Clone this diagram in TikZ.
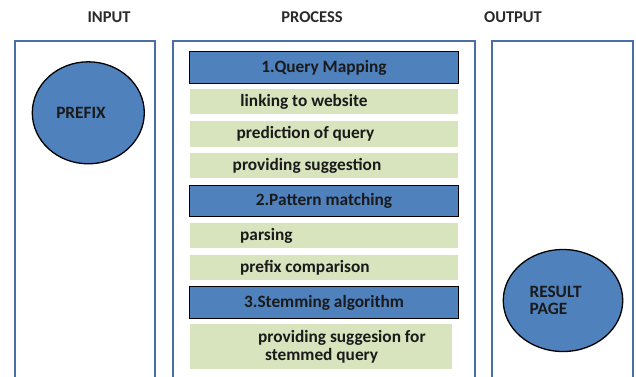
\documentclass[tikz,border=0pt]{standalone}
\usepackage{fontspec}
\setmainfont{Carlito}
\usetikzlibrary{shapes.geometric}
\begin{document}
\begin{tikzpicture}[x=1pt,y=-1pt,
  frame/.style={draw=framecol,line width=2pt},
  header/.style={font=\bfseries\fontsize{16.5}{19}\selectfont,text=headcol},
  stagebox/.style={draw=black,line width=1.3pt,fill=stageblue,inner sep=0pt,
    font=\bfseries\fontsize{17.3}{20}\selectfont,text=textcol},
  taskbox/.style={fill=taskgreen,inner sep=0pt},
  tasktext/.style={font=\bfseries\fontsize{17.3}{20}\selectfont,text=textcol,inner sep=0pt},
  blob/.style={ellipse,draw=black,line width=1.3pt,fill=stageblue,inner sep=0pt}
]
\definecolor{framecol}{HTML}{4A6FA5}
\definecolor{stageblue}{HTML}{4F81BD}
\definecolor{taskgreen}{HTML}{D7E4BD}
\definecolor{textcol}{HTML}{1A1A1A}
\definecolor{headcol}{HTML}{2A2A2A}
\useasboundingbox (0,0) rectangle (636,376);
\fill[white] (0,0) rectangle (636,376);

% column headings
\node[header] (hin)  at (109,17) {INPUT};
\node[header] (hpro) at (312,17) {PROCESS};
\node[header] (hout) at (513,17) {OUTPUT};

% column frames (open at the bottom)
\draw[frame] (14.5,377) -- (14.5,41) -- (155,41) -- (155,377);
\draw[frame] (172.5,377) -- (172.5,41) -- (475,41) -- (475,377);
\draw[frame] (492,377) -- (492,41) -- (633,41) -- (633,377);

% input
\node[blob,minimum width=112pt,minimum height=102pt] (prefix) at (88.3,112.8) {};
\node[tasktext,anchor=center] (prefixlbl) at (81,113) {PREFIX};

% process: stage 1
\node[stagebox,minimum width=269pt,minimum height=31.5pt] (s1) at (324,67.5) {1.Query Mapping};
\node[taskbox,minimum width=268pt,minimum height=25pt] (t11) at (324,101.7) {};
\node[tasktext] (t11l) at (304,101.7) {linking to website};
\node[taskbox,minimum width=268pt,minimum height=25.5pt] (t12) at (324,134) {};
\node[tasktext] (t12l) at (305.5,134) {prediction of query};
\node[taskbox,minimum width=268pt,minimum height=25pt] (t13) at (324,165.8) {};
\node[tasktext] (t13l) at (307,165.8) {providing suggestion};

% process: stage 2
\node[stagebox,minimum width=269pt,minimum height=31.5pt] (s2) at (324,201) {2.Pattern matching};
\node[taskbox,minimum width=268pt,minimum height=25.5pt] (t21) at (324,235.5) {};
\node[tasktext,anchor=west] (t21l) at (240,235.5) {parsing};
\node[taskbox,minimum width=268pt,minimum height=25pt] (t22) at (324,267.5) {};
\node[tasktext,anchor=west] (t22l) at (240,267.5) {prefix comparison};

% process: stage 3
\node[stagebox,minimum width=269pt,minimum height=31.5pt] (s3) at (324,302.5) {3.Stemming algorithm};
\node[taskbox,minimum width=262pt,minimum height=45pt] (t31) at (320.5,346.7) {};
\node[tasktext,anchor=west] (t31a) at (258,337.5) {providing suggesion for};
\node[tasktext,anchor=west] (t31b) at (265,356) {stemmed query};

% output
\node[blob,minimum width=119.5pt,minimum height=102pt] (result) at (563,300.5) {};
\node[tasktext,anchor=west] (resa) at (529.3,291.7) {RESULT};
\node[tasktext,anchor=west] (resb) at (529.3,309.3) {PAGE};
\end{tikzpicture}
\end{document}
